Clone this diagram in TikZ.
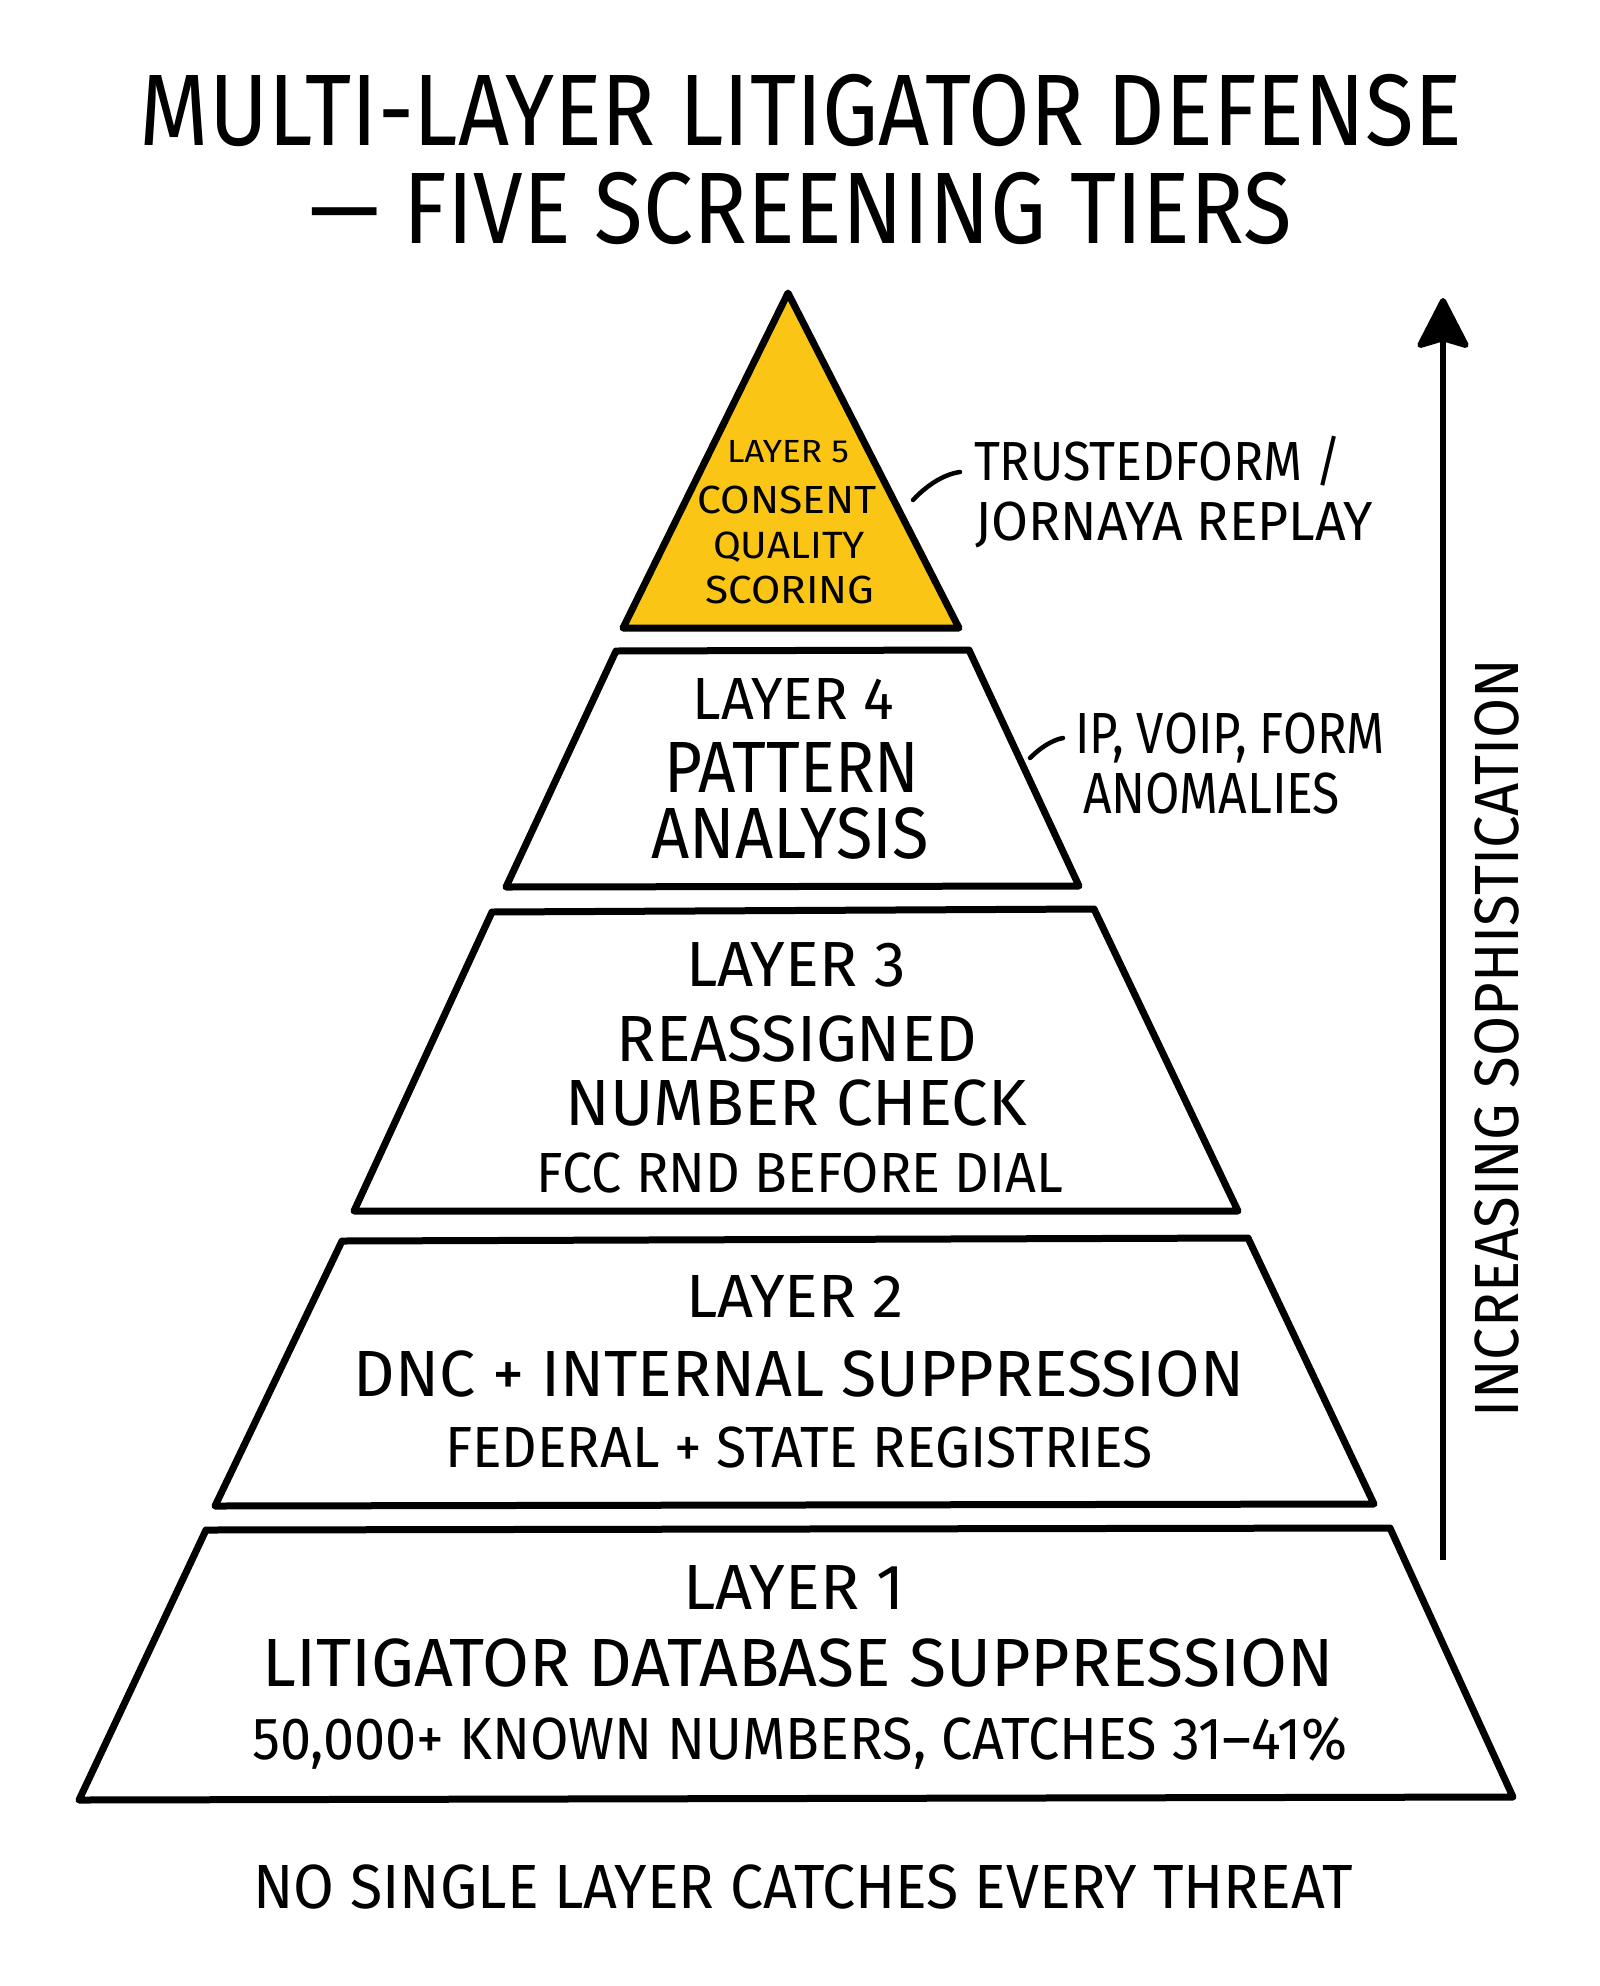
\documentclass[tikz,border=0pt]{standalone}
\usepackage{fontspec}
\setmainfont{Fira Sans}
\usepackage{graphicx}
\usetikzlibrary{arrows.meta}
\definecolor{gold}{RGB}{250,197,20}
\newcommand{\tx}[3]{\fontsize{#2pt}{#2pt}\selectfont\resizebox{#1pt}{\height}{#3}}
\tikzset{
  layerbox/.style={draw=black, line width=7pt, line join=round, fill=white},
  topbox/.style={layerbox, fill=gold},
  lbl/.style={inner sep=0pt, outer sep=0pt, anchor=base, text=black},
  side/.style={lbl, anchor=base west},
  leader/.style={draw=black, line width=4.5pt, line cap=round},
}
\begin{document}
\begin{tikzpicture}[x=1pt,y=-1pt]
\useasboundingbox[fill=white] (0,0) rectangle (1600,1986);

% title
\node[lbl] (t1) at (801,145) {\tx{1322}{101.6}{MULTI-LAYER LITIGATOR DEFENSE}};
\node[lbl] (t2) at (801,243) {\tx{982}{101.6}{— FIVE SCREENING TIERS}};

% layers
\draw[topbox] (788,293) -- (959,628) -- (623,628) -- cycle;
\draw[layerbox] (616,651) -- (969,650) -- (1079,886) -- (506,887) -- cycle;
\draw[layerbox] (492,912) -- (1094,909) -- (1238,1211) -- (354,1211) -- cycle;
\draw[layerbox] (342,1241) -- (1248,1238) -- (1374,1504) -- (215,1506) -- cycle;
\draw[layerbox] (206,1530) -- (1390,1528) -- (1513,1797) -- (79,1800) -- cycle;

% layer 5
\node[lbl] (l5a) at (788,462) {\tx{122}{32}{LAYER 5}};
\node[lbl] (l5b) at (787,513) {\tx{179}{39.2}{CONSENT}};
\node[lbl] (l5c) at (789,558) {\tx{152}{38}{QUALITY}};
\node[lbl] (l5d) at (790,603) {\tx{169}{39.2}{SCORING}};

% layer 4
\node[lbl] (l4a) at (793,719) {\tx{201}{59.5}{LAYER 4}};
\node[lbl] (l4b) at (792,792) {\tx{255}{72.6}{PATTERN}};
\node[lbl] (l4c) at (790,858) {\tx{277}{72.6}{ANALYSIS}};

% layer 3
\node[lbl] (l3a) at (796,986) {\tx{219}{63.8}{LAYER 3}};
\node[lbl] (l3b) at (797,1061) {\tx{360}{65.3}{REASSIGNED}};
\node[lbl] (l3c) at (796,1125) {\tx{461}{65.3}{NUMBER CHECK}};
\node[lbl] (l3d) at (800,1192) {\tx{526}{56.6}{FCC RND BEFORE DIAL}};

% layer 2
\node[lbl] (l2a) at (795,1317) {\tx{218}{61}{LAYER 2}};
\node[lbl] (l2b) at (799,1396) {\tx{891}{65.3}{DNC + INTERNAL SUPPRESSION}};
\node[lbl] (l2c) at (799,1467) {\tx{708}{58}{FEDERAL + STATE REGISTRIES}};

% layer 1
\node[lbl] (l1a) at (794,1609) {\tx{221}{63.8}{LAYER 1}};
\node[lbl] (l1b) at (798,1686) {\tx{1071}{68.2}{LITIGATOR DATABASE SUPPRESSION}};
\node[lbl] (l1c) at (800,1759) {\tx{1095}{59.5}{50,000+ KNOWN NUMBERS, CATCHES 31–41\%}};

% side labels
\node[side] (s5a) at (974,480) {\tx{368}{55.1}{TRUSTEDFORM /}};
\node[side] (s5b) at (975,540) {\tx{398}{55.1}{JORNAYA REPLAY}};
\node[side] (s4a) at (1075,753) {\tx{310}{58}{IP, VOIP, FORM}};
\node[side] (s4b) at (1083,813) {\tx{257}{58}{ANOMALIES}};

\coordinate (e5) at (913,500);
\coordinate (e4) at (1030,758);
\draw[leader] (e5) .. controls (928,484) and (945,474) .. ([shift={(-14,-8)}]s5a.base west);
\draw[leader] (e4) .. controls (1040,748) and (1052,740) .. ([shift={(-12,-15)}]s4a.base west);

% arrow
\coordinate (abot) at (1443,1560);
\coordinate (atop) at (1443,298);
\draw[line width=6pt, -{Stealth[length=55pt,width=56pt,inset=8pt,round]}] (abot) -- (atop);
\node[lbl, rotate=90] (alab) at (1518,1038) {\tx{758}{62.4}{INCREASING SOPHISTICATION}};

% bottom note
\node[lbl] (note) at (803,1908) {\tx{1099}{62.4}{NO SINGLE LAYER CATCHES EVERY THREAT}};
\end{tikzpicture}
\end{document}
